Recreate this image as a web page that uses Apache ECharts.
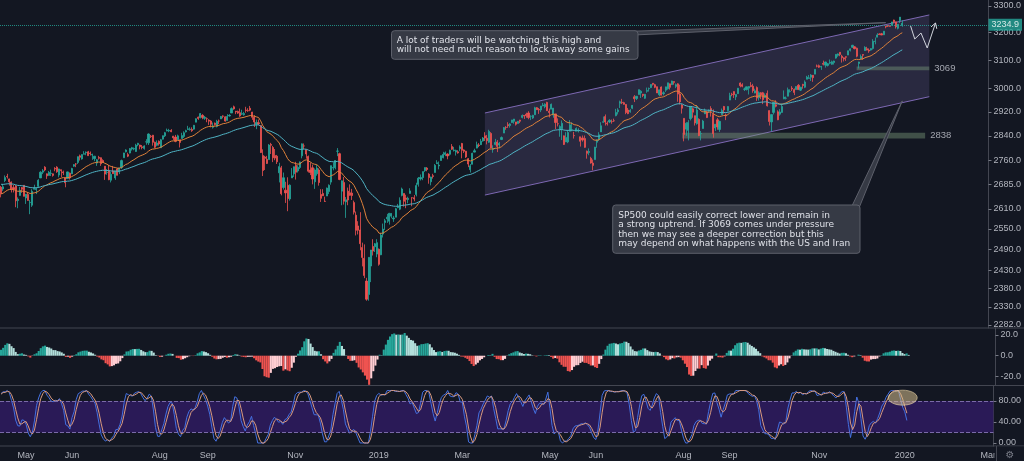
<!DOCTYPE html>
<html><head><meta charset="utf-8">
<style>html,body{margin:0;padding:0;background:#131722;overflow:hidden}#c{width:1024px;height:461px}</style>
<script src="https://cdn.jsdelivr.net/npm/echarts@6.0.0/dist/echarts.min.js"></script>
</head><body><div id="c"></div><script>
// ---- DATA: daily candles [day, open, high, low, close] ----
const warmupCloses = [2695.8,2713.1,2724.0,2743.2,2747.7,2751.3,2748.2,2767.6,2786.2,2776.4,2802.6,2798.0,2810.3,2833.0,2839.1,2837.5,2839.3,2872.9,2853.5,2822.4,2823.8,
2822.0,2762.1,2648.9,2695.1,2681.7,2581.0,2619.6,2656.0,2662.9,2698.6,2731.2,2732.2,2716.3,2701.3,2704.0,2747.3,2779.6,2744.3,2713.8,
2677.7,2691.3,2720.9,2728.1,2726.8,2739.0,2786.6,2783.0,2765.3,2749.5,2747.3,2752.0,2712.9,2716.9,2711.9,2643.7,2588.3,2658.6,2612.6,2605.0,2640.9,
2581.9,2614.5,2644.7,2662.8,2604.5,2613.2,2656.9,2642.2,2664.0];
const apr18=[[13,2676,2680,2645,2656.3],[16,2671,2686,2665,2677.8],[17,2697,2713,2692,2706.4],[18,2710,2718,2703,2708.6],[19,2702,2703,2681,2693.1],[20,2692,2694,2660,2670.1],[23,2675,2683,2660,2670.3],[24,2680,2683,2615,2634.6],[25,2635,2645,2612,2639.4],[26,2651,2677,2650,2666.9],[27,2675,2677,2659,2669.9],[30,2682,2683,2648,2648.1]];
const may18=[[1,2643,2655,2625,2654.8],[2,2654,2661,2635,2635.7],[3,2629,2637,2594,2629.7],[4,2621,2670,2616,2663.4],[7,2670,2684,2669,2672.6],[8,2669,2676,2655,2671.9],[9,2679,2701,2674,2697.8],[10,2705,2726,2705,2723.1],[11,2723,2733,2717,2727.7],[14,2739,2742,2726,2730.1],[15,2718,2719,2702,2711.5],[16,2713,2727,2712,2722.5],[17,2719,2731,2711,2720.1],[18,2718,2719,2709,2713.0],[21,2735,2739,2726,2733.0],[22,2739,2742,2721,2724.4],[23,2714,2734,2707,2733.3],[24,2731,2731,2708,2727.8],[25,2724,2728,2714,2721.3],[29,2706,2707,2676,2689.9],[30,2703,2725,2703,2724.0],[31,2720,2722,2700,2705.3]];
const jun18=[[1,2718,2737,2718,2734.6],[4,2742,2749,2740,2746.9],[5,2749,2752,2739,2748.8],[6,2754,2773,2749,2772.4],[7,2775,2779,2760,2770.4],[8,2765,2780,2763,2779.0],[11,2780,2790,2780,2782.0],[12,2785,2789,2777,2786.9],[13,2788,2791,2775,2775.6],[14,2784,2789,2776,2782.5],[15,2778,2782,2762,2779.7],[18,2766,2775,2758,2773.8],[19,2752,2765,2743,2762.6],[20,2770,2775,2763,2767.3],[21,2769,2770,2743,2749.8],[22,2760,2764,2752,2754.9],[25,2742,2742,2699,2717.1],[26,2722,2733,2715,2723.1],[27,2729,2746,2698,2699.6],[28,2698,2724,2691,2716.3],[29,2727,2743,2718,2718.4]];
const jul18=[[2,2705,2727,2699,2726.7],[3,2733,2737,2713,2713.2],[5,2724,2737,2717,2736.6],[6,2738,2763,2733,2759.8],[9,2769,2785,2769,2784.2],[10,2788,2796,2786,2793.8],[11,2779,2785,2771,2774.0],[12,2784,2800,2783,2798.3],[13,2797,2804,2792,2801.3],[16,2797,2802,2793,2798.4],[17,2789,2814,2788,2809.6],[18,2811,2817,2806,2815.6],[19,2810,2811,2796,2804.5],[20,2804,2810,2796,2801.8],[23,2799,2809,2795,2807.0],[24,2820,2829,2811,2820.4],[25,2817,2848,2810,2846.1],[26,2839,2843,2833,2837.4],[27,2842,2843,2808,2818.8],[30,2819,2821,2799,2802.6],[31,2809,2825,2806,2816.3]];
const aug18=[[1,2822,2825,2808,2813.4],[2,2801,2830,2801,2827.2],[3,2829,2841,2828,2840.4],[6,2840,2853,2836,2850.4],[7,2856,2864,2855,2858.5],[8,2856,2863,2852,2857.7],[9,2858,2862,2852,2853.6],[10,2839,2840,2826,2833.3],[13,2836,2843,2819,2821.9],[14,2827,2844,2826,2840.0],[15,2827,2827,2802,2818.4],[16,2831,2850,2831,2840.7],[17,2838,2855,2833,2850.1],[20,2853,2860,2851,2857.1],[21,2861,2873,2860,2863.0],[22,2860,2868,2857,2861.8],[23,2861,2868,2853,2857.0],[24,2862,2876,2860,2874.7],[27,2885,2898,2885,2896.7],[28,2902,2904,2893,2897.5],[29,2900,2916,2898,2914.0],[30,2908,2912,2895,2901.1],[31,2898,2906,2893,2901.5]];
const sep18=[[4,2897,2901,2885,2896.7],[5,2892,2895,2876,2888.6],[6,2889,2892,2868,2878.1],[7,2868,2884,2864,2871.7],[10,2882,2884,2874,2877.1],[11,2871,2893,2868,2887.9],[12,2889,2894,2879,2888.9],[13,2896,2906,2896,2904.2],[14,2906,2908,2898,2905.0],[17,2903,2905,2887,2888.8],[18,2891,2912,2891,2904.3],[19,2906,2912,2904,2908.0],[20,2916,2935,2916,2930.8],[21,2937,2941,2927,2929.7],[24,2922,2923,2912,2919.4],[25,2921,2924,2913,2915.6],[26,2917,2931,2903,2906.0],[27,2912,2927,2909,2914.0],[28,2910,2920,2907,2914.0]];
const oct18=[[1,2926,2937,2917,2924.6],[2,2924,2932,2920,2923.4],[3,2932,2940,2922,2925.5],[4,2919,2920,2893,2901.6],[5,2902,2909,2869,2885.6],[8,2878,2894,2862,2884.4],[9,2883,2894,2875,2880.3],[10,2874,2874,2784,2785.7],[11,2776,2796,2711,2728.4],[12,2771,2775,2730,2767.1],[15,2764,2775,2749,2750.8],[16,2763,2813,2763,2809.9],[17,2812,2817,2781,2809.2],[18,2802,2807,2755,2768.8],[19,2776,2797,2761,2767.8],[22,2774,2778,2749,2755.9],[23,2721,2753,2691,2740.7],[24,2737,2743,2651,2656.1],[25,2675,2722,2669,2705.6],[26,2667,2693,2628,2658.7],[29,2682,2707,2603,2641.3],[30,2640,2685,2635,2682.6],[31,2705,2736,2705,2711.7]];
const nov18=[[1,2718,2741,2708,2740.4],[2,2745,2756,2700,2723.1],[5,2727,2745,2722,2738.3],[6,2738,2757,2733,2755.5],[7,2775,2815,2767,2813.9],[8,2807,2815,2797,2806.8],[9,2795,2796,2766,2781.0],[12,2773,2776,2722,2726.2],[13,2730,2754,2714,2722.2],[14,2737,2747,2685,2701.6],[15,2693,2735,2671,2730.2],[16,2718,2746,2712,2736.3],[19,2730,2735,2681,2690.7],[20,2654,2670,2631,2641.9],[21,2657,2670,2649,2649.9],[23,2633,2647,2631,2632.6],[26,2649,2675,2649,2673.5],[27,2663,2685,2655,2682.2],[28,2692,2744,2684,2743.8],[29,2736,2754,2729,2737.8],[30,2737,2761,2732,2760.2]];
const dec18=[[3,2790,2800,2774,2790.4],[4,2782,2785,2698,2700.1],[6,2664,2697,2621,2696.0],[7,2691,2708,2623,2633.1],[10,2631,2646,2583,2637.7],[11,2664,2675,2621,2636.8],[12,2659,2685,2650,2651.1],[13,2658,2671,2637,2650.5],[14,2629,2635,2593,2600.0],[17,2591,2602,2531,2545.9],[18,2559,2573,2534,2546.2],[19,2547,2600,2488,2507.0],[20,2496,2510,2442,2467.4],[21,2465,2505,2409,2416.6],[24,2401,2410,2347,2351.1],[26,2364,2468,2347,2467.7],[27,2443,2489,2398,2488.8],[28,2499,2520,2473,2485.7],[31,2498,2509,2483,2506.9]];
const jan19=[[2,2477,2520,2468,2510.0],[3,2491,2493,2444,2447.9],[4,2475,2538,2474,2531.9],[7,2535,2566,2525,2549.7],[8,2569,2580,2547,2574.4],[9,2580,2595,2568,2585.0],[10,2573,2598,2563,2596.6],[11,2588,2597,2582,2596.3],[14,2580,2589,2571,2582.6],[15,2585,2613,2585,2610.3],[16,2614,2625,2612,2616.1],[17,2609,2645,2606,2636.0],[18,2651,2675,2648,2670.7],[22,2657,2657,2617,2632.9],[23,2643,2653,2612,2638.7],[24,2638,2647,2627,2642.3],[25,2657,2673,2657,2664.8],[28,2644,2645,2618,2643.9],[29,2644,2652,2633,2640.0],[30,2654,2690,2648,2681.1],[31,2685,2708,2678,2704.1]];
const feb19=[[1,2702,2716,2697,2706.5],[4,2706,2725,2698,2724.9],[5,2728,2738,2724,2737.7],[6,2736,2739,2726,2731.6],[7,2717,2720,2687,2706.1],[8,2693,2709,2682,2707.9],[11,2712,2718,2703,2709.8],[12,2722,2749,2722,2744.7],[13,2750,2761,2749,2753.0],[14,2743,2757,2732,2745.7],[15,2760,2776,2760,2775.6],[19,2769,2788,2767,2779.8],[20,2779,2789,2774,2784.7],[21,2781,2783,2764,2774.9],[22,2780,2795,2776,2792.7],[25,2805,2813,2794,2796.1],[26,2792,2804,2789,2793.9],[27,2787,2795,2776,2792.4],[28,2788,2793,2782,2784.5]];
const mar19=[[1,2798,2809,2790,2803.7],[4,2815,2817,2767,2792.8],[5,2794,2796,2784,2789.7],[6,2790,2791,2768,2771.5],[7,2766,2768,2739,2748.9],[8,2731,2749,2722,2743.1],[11,2748,2785,2748,2783.3],[12,2787,2798,2786,2791.5],[13,2800,2821,2799,2810.9],[14,2810,2816,2803,2808.5],[15,2811,2830,2810,2822.5],[18,2823,2836,2821,2832.9],[19,2840,2852,2823,2832.6],[20,2832,2843,2812,2824.2],[21,2819,2860,2817,2854.9],[22,2848,2852,2800,2800.7],[25,2796,2809,2785,2798.4],[26,2812,2830,2809,2818.5],[27,2820,2826,2787,2805.4],[28,2810,2820,2799,2815.4],[29,2828,2838,2826,2834.4]];
const apr19=[[1,2849,2869,2849,2867.2],[2,2868,2872,2860,2867.2],[3,2877,2885,2866,2873.4],[4,2874,2882,2867,2879.4],[5,2884,2893,2883,2892.7],[8,2888,2896,2880,2895.8],[9,2886,2886,2874,2878.2],[10,2881,2889,2880,2888.2],[11,2892,2893,2882,2888.3],[12,2901,2911,2898,2907.4],[15,2908,2909,2896,2905.6],[16,2912,2917,2900,2907.1],[17,2916,2922,2895,2900.5],[18,2905,2908,2892,2905.0],[22,2899,2910,2896,2908.0],[23,2910,2937,2910,2933.7],[24,2934,2936,2926,2927.3],[25,2928,2933,2913,2926.2],[26,2926,2940,2919,2939.9],[29,2940,2950,2939,2943.0],[30,2937,2949,2932,2945.8]];
const may19=[[1,2952,2954,2923,2923.7],[2,2922,2931,2901,2917.5],[3,2929,2948,2929,2945.6],[6,2909,2933,2900,2932.5],[7,2913,2913,2862,2884.1],[8,2880,2898,2871,2879.4],[9,2860,2875,2837,2870.7],[10,2863,2891,2826,2881.4],[13,2840,2841,2810,2811.9],[14,2820,2852,2820,2834.4],[15,2820,2859,2816,2851.0],[16,2855,2892,2855,2876.3],[17,2859,2885,2855,2859.5],[20,2841,2853,2831,2840.2],[21,2855,2868,2855,2864.4],[22,2856,2865,2851,2856.3],[23,2837,2837,2805,2822.2],[24,2833,2841,2821,2826.1],[28,2831,2841,2801,2802.4],[29,2790,2792,2766,2783.0],[30,2786,2799,2777,2788.9],[31,2767,2772,2750,2752.1]];
const jun19=[[3,2752,2763,2729,2744.5],[4,2763,2804,2763,2803.3],[5,2819,2828,2801,2826.2],[6,2829,2852,2823,2843.5],[7,2853,2885,2853,2873.3],[10,2885,2904,2883,2886.7],[11,2904,2911,2874,2885.7],[12,2882,2888,2874,2879.8],[13,2886,2895,2882,2891.6],[14,2887,2894,2880,2887.0],[17,2890,2897,2886,2889.7],[18,2907,2930,2905,2917.8],[19,2920,2932,2911,2926.5],[20,2949,2958,2933,2954.2],[21,2952,2964,2946,2950.5],[24,2951,2954,2944,2945.4],[25,2945,2946,2912,2917.4],[26,2926,2933,2912,2913.8],[27,2920,2929,2917,2924.9],[28,2932,2943,2929,2941.8]];
const jul19=[[1,2971,2977,2953,2964.3],[2,2965,2974,2960,2973.0],[3,2979,2996,2979,2995.8],[5,2984,2994,2967,2990.4],[8,2980,2981,2970,2976.0],[9,2966,2981,2964,2979.6],[10,2990,3003,2985,2993.1],[11,2999,3003,2989,2999.9],[12,3003,3014,3001,3013.8],[15,3018,3018,3010,3014.3],[16,3013,3016,3001,3004.0],[17,3006,3006,2984,2984.4],[18,2978,2996,2973,2995.1],[19,3005,3007,2976,2976.6],[22,2982,2990,2976,2985.0],[23,2994,3006,2988,3005.5],[24,2999,3020,2996,3019.6],[25,3016,3017,2996,3003.7],[26,3013,3027,3012,3025.9],[29,3024,3025,3013,3021.0],[30,3007,3017,3001,3013.2],[31,3016,3018,2954,2980.4]];
const aug19=[[1,2981,3013,2945,2953.6],[2,2943,2946,2914,2932.1],[5,2898,2898,2822,2844.7],[6,2862,2885,2840,2881.8],[7,2858,2892,2825,2884.0],[8,2897,2939,2891,2938.1],[9,2930,2935,2900,2918.7],[12,2907,2907,2874,2882.7],[13,2880,2943,2877,2926.3],[14,2895,2898,2839,2840.6],[15,2847,2856,2825,2847.6],[16,2864,2893,2864,2888.7],[19,2913,2931,2913,2923.7],[20,2920,2923,2899,2900.5],[21,2922,2928,2917,2924.4],[22,2931,2939,2904,2923.0],[23,2911,2928,2834,2847.1],[26,2866,2879,2856,2878.4],[27,2893,2899,2860,2869.2],[28,2861,2890,2853,2887.9],[29,2910,2931,2910,2924.6],[30,2938,2940,2914,2926.5]];
const sep19=[[3,2909,2914,2892,2906.3],[4,2924,2939,2921,2937.8],[5,2960,2985,2960,2976.0],[6,2980,2985,2973,2978.7],[9,2989,2990,2967,2978.4],[10,2971,2980,2960,2979.4],[11,2982,3001,2981,3000.9],[12,3019,3021,3004,3009.6],[13,3013,3018,3004,3007.4],[16,2997,3003,2991,2998.0],[17,2996,3006,2993,3005.7],[18,3001,3008,2979,3006.7],[19,3010,3022,3004,3006.8],[20,3008,3016,2985,2992.1],[23,2984,2999,2983,2991.8],[24,3003,3007,2957,2966.6],[25,2968,2990,2958,2984.9],[26,2985,2987,2963,2977.6],[27,2985,2988,2946,2961.8],[30,2968,2983,2967,2976.7]];
const oct19=[[1,2983,2993,2938,2940.3],[2,2924,2925,2874,2887.6],[3,2886,2911,2855,2910.6],[4,2918,2953,2911,2952.0],[7,2944,2959,2935,2938.8],[8,2920,2925,2892,2893.1],[9,2912,2929,2907,2919.4],[10,2918,2948,2917,2938.1],[11,2964,2993,2963,2970.3],[14,2966,2972,2962,2966.2],[15,2973,3003,2973,2995.7],[16,2989,2997,2986,2989.7],[17,3001,3008,2991,2998.0],[18,2996,3000,2977,2986.2],[21,2996,3007,2995,3006.7],[22,3011,3015,2995,2996.0],[23,2994,3005,2991,3004.5],[24,3014,3016,2999,3010.3],[25,3004,3028,3001,3022.6],[28,3032,3044,3032,3039.4],[29,3035,3047,3034,3036.9],[30,3039,3050,3026,3046.8],[31,3046,3047,3023,3037.6]];
const nov19=[[1,3050,3067,3050,3066.9],[4,3079,3084,3074,3078.3],[5,3080,3084,3072,3074.6],[6,3075,3079,3065,3076.8],[7,3088,3098,3081,3085.2],[8,3082,3094,3073,3093.1],[11,3081,3089,3077,3087.0],[12,3089,3102,3085,3091.8],[13,3085,3098,3083,3094.0],[14,3091,3098,3084,3096.6],[15,3107,3121,3105,3120.5],[18,3117,3124,3112,3122.0],[19,3128,3128,3114,3120.2],[20,3114,3119,3091,3108.5],[21,3108,3110,3095,3103.5],[22,3112,3113,3097,3110.3],[25,3118,3134,3118,3133.6],[26,3135,3142,3131,3140.5],[27,3146,3155,3144,3153.6],[29,3148,3150,3139,3141.0]];
const dec19=[[2,3143,3145,3110,3113.9],[3,3088,3094,3070,3093.2],[4,3104,3120,3103,3112.8],[5,3120,3120,3101,3117.4],[6,3134,3150,3134,3145.9],[9,3141,3148,3135,3136.0],[10,3136,3142,3126,3132.5],[11,3136,3143,3134,3141.6],[12,3142,3176,3138,3168.6],[13,3167,3182,3157,3168.8],[16,3183,3198,3183,3191.5],[17,3195,3198,3191,3192.5],[18,3196,3199,3191,3191.1],[19,3192,3206,3191,3205.4],[20,3223,3226,3216,3221.2],[23,3227,3228,3221,3224.0],[24,3225,3227,3222,3223.4],[26,3227,3240,3227,3239.9],[27,3247,3248,3235,3240.0],[30,3240,3241,3215,3221.3],[31,3216,3232,3212,3230.8]];
const jan20=[[2,3245,3258,3236,3257.9],[3,3226,3246,3222,3234.9]];
const monthData=[['2018-04',apr18],['2018-05',may18],['2018-06',jun18],['2018-07',jul18],['2018-08',aug18],['2018-09',sep18],['2018-10',oct18],['2018-11',nov18],['2018-12',dec18],
['2019-01',jan19],['2019-02',feb19],['2019-03',mar19],['2019-04',apr19],['2019-05',may19],['2019-06',jun19],['2019-07',jul19],['2019-08',aug19],['2019-09',sep19],['2019-10',oct19],['2019-11',nov19],['2019-12',dec19],['2020-01',jan20]];
const futureHolidays=['2020-01-20','2020-02-17'];
const xLabelMonths={'2018-05':'May','2018-06':'Jun','2018-08':'Aug','2018-09':'Sep','2018-11':'Nov','2019-01':'2019','2019-03':'Mar','2019-05':'May','2019-06':'Jun','2019-08':'Aug','2019-09':'Sep','2019-11':'Nov','2020-01':'2020','2020-03':'Mar'};
const priceTicks=[2282,2330,2380,2430,2490,2550,2610,2685,2760,2840,2920,3000,3100,3200,3300];
const macdTicks=[20,0,-20];
const stochTicks=[80,40,0];
// annotations (data units)
const channel={x:['2019-03-19','2020-01-23'],upper:[2916,3266],lower:[2652,2971.5]};
const zones=[{label:'2838',x:['2019-08-02','2020-01-21'],y:[2831,2850]},{label:'3069',x:['2019-12-02','2020-01-23'],y:[3064,3077]}];
const arrowPath=[['2020-01-09',3224.6],['2020-01-13',3176.5],['2020-01-16',3198.6],['2020-01-22',3143.6],['2020-01-28',3235.8]];
const note1={lines:['A lot of traders will be watching this high and','will not need much reason to lock away some gains'],tip:['2019-12-20',3237]};
const note2={lines:['SP500 could easily correct lower and remain in','a strong uptrend. If 3069 comes under pressure','then we may see a deeper correction but this','may depend on what happens with the US and Iran'],tip:['2020-01-03',2957]};
const stochMark={x:'2019-12-31',v:86.3};

// ---- build ----
const dates=[],ohlc=[];
monthData.forEach(([ym,rows])=>rows.forEach(r=>{dates.push(ym+'-'+String(r[0]).padStart(2,'0'));ohlc.push(r.slice(1));}));
const cats=dates.slice();
let dt=new Date(dates[dates.length-1]+'T00:00:00Z');
while(cats.length<476){dt=new Date(dt.getTime()+86400000);const w=dt.getUTCDay();const s=dt.toISOString().slice(0,10);if(w===0||w===6||futureHolidays.includes(s))continue;cats.push(s);}
const L=Math.log;
const closesAll=warmupCloses.concat(ohlc.map(r=>r[3]));
const W=warmupCloses.length;
function ema(a,n){const k=2/(n+1);const o=[];let e=null;a.forEach((v,i)=>{if(v==null){o.push(null);return;}e=e==null?v:v*k+e*(1-k);o.push(e);});return o;}
function sma(a,n){return a.map((v,i)=>{if(i<n-1)return null;let s=0;for(let j=i-n+1;j<=i;j++){if(a[j]==null)return null;s+=a[j];}return s/n;});}
const ema20=ema(closesAll,20).slice(W),ema50=ema(closesAll,50).slice(W);
const e12=ema(closesAll,12),e26=ema(closesAll,26);
const macd=e12.map((v,i)=>v-e26[i]);const sig=ema(macd,9);
const hist=macd.map((v,i)=>v-sig[i]);
function rsi(c,n){const o=new Array(c.length).fill(null);let ag=0,al=0;for(let i=1;i<c.length;i++){const ch=c[i]-c[i-1];const g=Math.max(ch,0),l=Math.max(-ch,0);if(i<=n){ag+=g/n;al+=l/n;if(i===n)o[i]=al===0?100:100-100/(1+ag/al);}else{ag=(ag*(n-1)+g)/n;al=(al*(n-1)+l)/n;o[i]=al===0?100:100-100/(1+ag/al);}}return o;}
const r=rsi(closesAll,14);
const st=r.map((v,i)=>{if(i<14+13)return null;let mn=1e9,mx=-1e9;for(let j=i-13;j<=i;j++){if(r[j]==null)return null;mn=Math.min(mn,r[j]);mx=Math.max(mx,r[j]);}return mx===mn?50:(v-mn)/(mx-mn)*100;});
const kAll=sma(st,3),dAll=sma(kAll,3);
const kLine=kAll.slice(W),dLine=dAll.slice(W);
const histBars=[];
for(let i=W;i<hist.length;i++){const h=hist[i],p=hist[i-1];let c;if(h>=0)c=h>p?'#26a69a':'#b2dfdb';else c=h<p?'#ef5350':'#ffcdd2';histBars.push({value:h,itemStyle:{color:c}});}
const candleData=ohlc.map(([o,h,l,c])=>[L(o),L(c),L(l),L(h)]);
const lastClose=ohlc[ohlc.length-1][3];
const AXF="'Liberation Sans Narrow','Liberation Sans',sans-serif";
const firstOfMonth=new Set();cats.forEach((d,i)=>{if(i>0&&d.slice(0,7)!==cats[i-1].slice(0,7))firstOfMonth.add(d);});

const chart=echarts.init(document.getElementById('c'),null,{renderer:'canvas'});
const grids=[{left:0,right:28,top:0,height:328},{left:0,right:28,top:328,height:57.5},{left:0,right:28,top:385.5,height:60.5}];
function yAx(g,min,max,ticks,fmt){return{type:'value',gridIndex:g,position:'right',min,max,splitLine:{show:false},
 axisLine:{show:true,lineStyle:{color:'#434651'}},axisTick:{show:true,customValues:ticks,length:3,lineStyle:{color:'#787b86'}},
 axisLabel:{customValues:ticks,formatter:fmt,color:'#b2b5be',fontSize:9,fontFamily:AXF,margin:5}};}
const option={
 backgroundColor:'#131722',animation:false,
 grid:grids,
 xAxis:[0,1,2].map(i=>({type:'category',gridIndex:i,data:cats,boundaryGap:true,axisLine:{show:false},axisTick:{show:false},splitLine:{show:false},
   axisLabel:{show:i===2,interval:(idx,val)=>firstOfMonth.has(val)&&xLabelMonths[val.slice(0,7)]!==undefined,formatter:val=>xLabelMonths[val.slice(0,7)]||'',color:'#b2b5be',fontSize:9,fontFamily:AXF,margin:5}})),
 yAxis:[yAx(0,7.72935,8.10862,priceTicks.map(L),v=>Math.exp(v).toFixed(1)),
        yAx(1,-28.79,26.76,macdTicks,v=>Number(v).toFixed(1)),
        yAx(2,-5.71,109.5,stochTicks,v=>Number(v).toFixed(2))],
 series:[
  {type:'candlestick',xAxisIndex:0,yAxisIndex:0,data:candleData,barWidth:1.6,z:3,
   itemStyle:{color:'#26a69a',color0:'#ef5350',borderColor:'#26a69a',borderColor0:'#ef5350',borderWidth:0.8},
   markLine:{silent:true,symbol:'none',data:[{yAxis:L(lastClose)}],lineStyle:{type:'dotted',color:'#26a69a',width:1,opacity:0.8},
     label:{show:true,position:'end',distance:0,formatter:lastClose.toFixed(1),backgroundColor:'#26a69a',color:'#ffffff',padding:[2,3,1,3],fontSize:9,fontFamily:AXF}}},
  {type:'line',xAxisIndex:0,yAxisIndex:0,data:ema20.map(L),symbol:'none',lineStyle:{color:'#e0823a',width:1},z:4},
  {type:'line',xAxisIndex:0,yAxisIndex:0,data:ema50.map(L),symbol:'none',lineStyle:{color:'#4fb3c4',width:1},z:4},
  {type:'bar',xAxisIndex:1,yAxisIndex:1,data:histBars,barWidth:'100%'},
  {type:'line',xAxisIndex:2,yAxisIndex:2,data:kLine,symbol:'none',lineStyle:{color:'#4470e0',width:1},z:4,
   markArea:{silent:true,itemStyle:{color:'#2a1a57'},data:[[{yAxis:20},{yAxis:80}]]},
   markLine:{silent:true,symbol:'none',label:{show:false},lineStyle:{type:'dashed',color:'#7a6aa8',width:1},data:[{yAxis:80},{yAxis:20}]}},
  {type:'line',xAxisIndex:2,yAxisIndex:2,data:dLine,symbol:'none',lineStyle:{color:'#d99a80',width:1},z:4}
 ]
};
chart.setOption(option);

// ---- annotations ----
const P0=(d,p)=>chart.convertToPixel({gridIndex:0},[cats.indexOf(d),L(p)]);
const g=[];
const ul=P0(channel.x[0],channel.upper[0]),ur=P0(channel.x[1],channel.upper[1]),lr=P0(channel.x[1],channel.lower[1]),ll=P0(channel.x[0],channel.lower[0]);
g.push({type:'polygon',z:1,shape:{points:[ul,ur,lr,ll]},style:{fill:'rgba(130,115,185,0.2)'}});
g.push({type:'line',z:1,shape:{x1:ul[0],y1:ul[1],x2:ur[0],y2:ur[1]},style:{stroke:'#7d68b3',lineWidth:1}});
g.push({type:'line',z:1,shape:{x1:ll[0],y1:ll[1],x2:lr[0],y2:lr[1]},style:{stroke:'#7d68b3',lineWidth:1}});
zones.forEach(zn=>{const a=P0(zn.x[0],zn.y[1]),b=P0(zn.x[1],zn.y[0]);
 g.push({type:'rect',z:1,shape:{x:a[0],y:a[1],width:b[0]-a[0],height:b[1]-a[1]},style:{fill:'rgba(120,150,120,0.45)'}});
 g.push({type:'text',z:6,style:{text:zn.label,x:b[0]+5,y:(a[1]+b[1])/2,fill:'#a3a6af',font:"9.5px 'Liberation Sans',sans-serif",verticalAlign:'middle'}});});
const ap=arrowPath.map(([d,p])=>P0(d,p));
g.push({type:'polyline',z:6,shape:{points:ap},style:{stroke:'#d1d4dc',lineWidth:1,fill:null}});
{const a=ap[ap.length-2],b=ap[ap.length-1];const ang=Math.atan2(b[1]-a[1],b[0]-a[0]);const hl=6;
 [Math.PI*0.83,-Math.PI*0.83].forEach(t=>g.push({type:'line',z:6,shape:{x1:b[0],y1:b[1],x2:b[0]+hl*Math.cos(ang+t),y2:b[1]+hl*Math.sin(ang+t)},style:{stroke:'#d1d4dc',lineWidth:1}}));}
const BOXF="9px 'DejaVu Sans',sans-serif";
function note(n,box,base,lineY,textX){
 const tip=P0(n.tip[0],n.tip[1]);
 g.push({type:'polygon',z:20,shape:{points:[base[0],tip,base[1]]},style:{fill:'#363a45',stroke:'#5d606b',lineWidth:1}});
 g.push({type:'rect',z:21,shape:{x:box[0],y:box[1],width:box[2],height:box[3],r:3},style:{fill:'#363a45',stroke:'#5d606b',lineWidth:1}});
 n.lines.forEach((t,i)=>g.push({type:'text',z:22,style:{text:t,x:textX,y:lineY[i],fill:'#dfe1e8',font:BOXF,verticalAlign:'middle'}}));}
note(note1,[391.5,30.7,246.5,28.6],[[634,31.2],[634,35]],[40.6,49.8],396.7);
note(note2,[612.7,205,247.3,48.3],[[851,208],[859,208]],[216,225.1,234.2,243.3],618.3);
const em=chart.convertToPixel({gridIndex:2},[cats.indexOf(stochMark.x),stochMark.v]);
g.push({type:'ellipse',z:6,shape:{cx:em[0],cy:em[1],rx:14.5,ry:7.5},style:{fill:'rgba(214,190,140,0.55)',stroke:'rgba(235,215,170,0.6)',lineWidth:1}});
[328,385.5,446].forEach(y=>g.push({type:'line',z:30,shape:{x1:0,y1:y,x2:1024,y2:y},style:{stroke:'#434651',lineWidth:1}}));
g.push({type:'rect',z:40,shape:{x:994.5,y:446.5,width:30,height:15},style:{fill:'#131722'}});
g.push({type:'line',z:41,shape:{x1:996.5,y1:446,x2:996.5,y2:461},style:{stroke:'#434651',lineWidth:1}});
g.push({type:'text',z:41,style:{text:'\u2699',x:1010,y:455,fill:'#787b86',font:"10px 'DejaVu Sans',sans-serif",align:'center',verticalAlign:'middle'}});
chart.setOption({graphic:g});
</script></body></html>
